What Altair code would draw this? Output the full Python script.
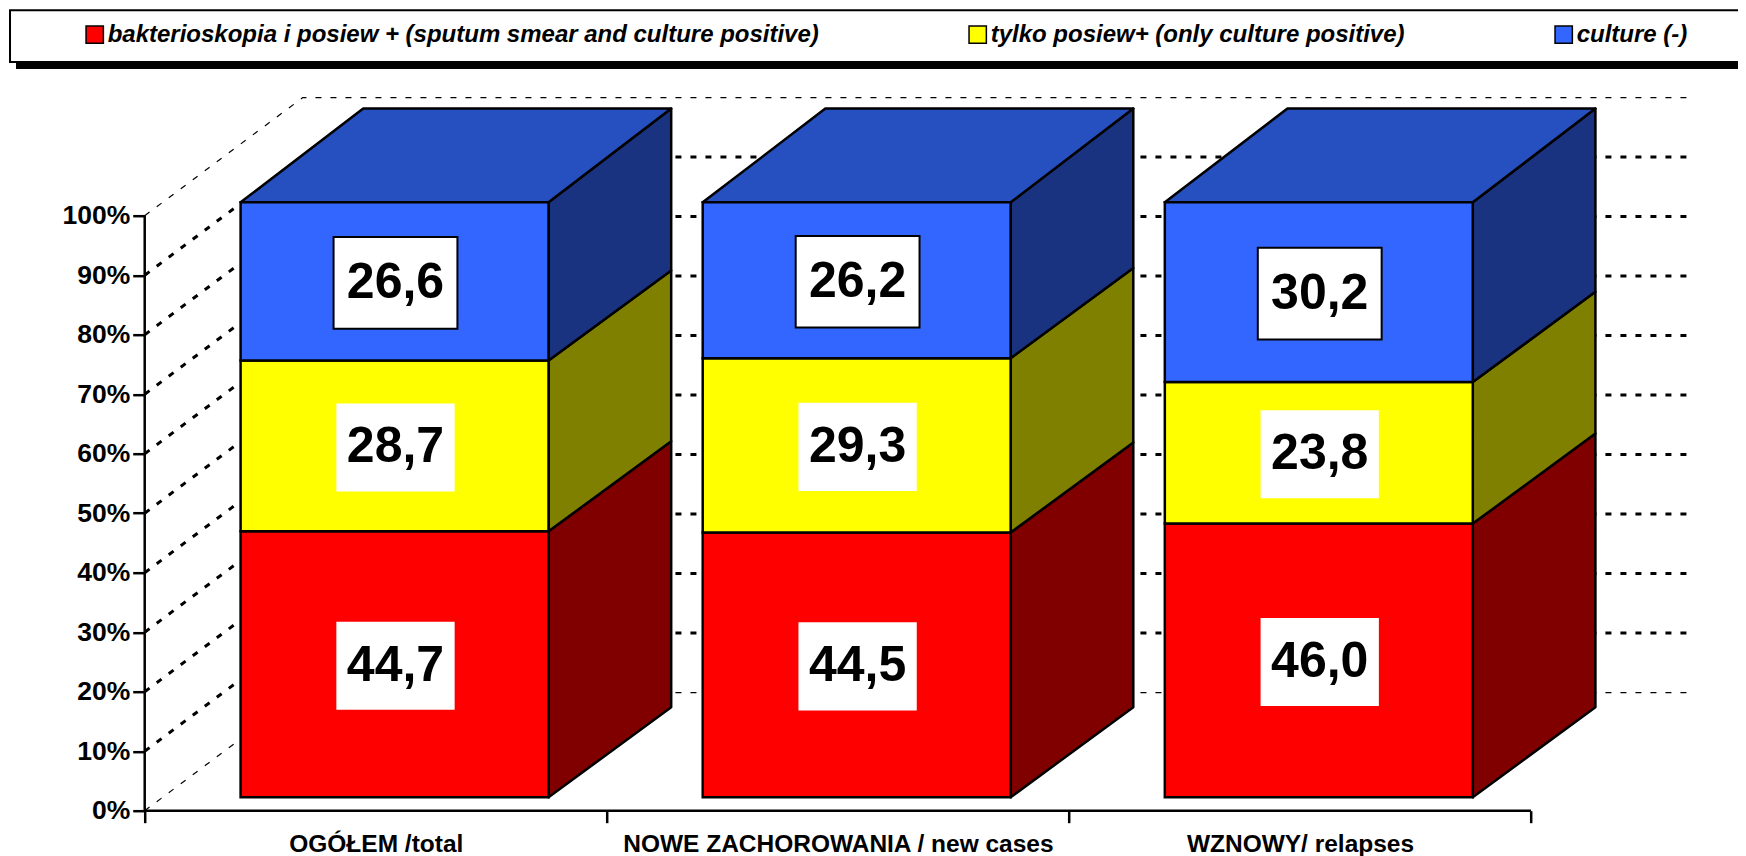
import altair as alt
import pandas as pd

CATEGORIES = ["OGÓŁEM /total", "NOWE ZACHOROWANIA / new cases", "WZNOWY/ relapses"]
SERIES = [
    "bakterioskopia i posiew + (sputum smear and culture positive)",
    "tylko posiew+ (only culture positive)",
    "culture (-)",
]
RED_VALUES = [44.7, 44.5, 46.0]
YELLOW_VALUES = [28.7, 29.3, 23.8]
BLUE_VALUES = [26.6, 26.2, 30.2]
LABELS = [["44,7", "44,5", "46,0"], ["28,7", "29,3", "23,8"], ["26,6", "26,2", "30,2"]]
FRONT_COLORS = ["#FF0000", "#FFFF00", "#3366FF"]
SIDE_COLORS = ["#800000", "#808000", "#1A3380"]
TOP_COLOR = "#264FBF"
PERCENT_TICKS = list(range(0, 101, 10))

# scale set-up: one x unit is one category slot, y is percent
PLOT_W, PLOT_H = 1544.4, 714
X_DOMAIN = [0, 3.342]
Y_DOMAIN = [0, 120]
BAR_LEFT = 0.2075
BAR_W = 0.6664
BAR_DX = 0.2654
FLOOR = 2.25
WALL_DX, WALL_DY = 0.342, 19.85
FONT = "Liberation Sans"

x_scale = alt.Scale(domain=X_DOMAIN, nice=False, zero=False)
y_scale = alt.Scale(domain=Y_DOMAIN, nice=False, zero=False)

x_axis = alt.Axis(
    values=[0, 0.5, 1, 1.5, 2, 2.5, 3],
    labelExpr="datum.value === 0.5 ? '%s' : datum.value === 1.5 ? '%s' : datum.value === 2.5 ? '%s' : ''"
    % tuple(CATEGORIES),
    domain=False, grid=False, tickColor="black", tickWidth=2.5, tickSize=12,
    tickOpacity={"condition": {"test": "datum.value % 1 === 0", "value": 1}, "value": 0},
    labelFont=FONT, labelFontWeight="bold", labelFontSize=24.5, labelColor="black", labelLimit=800,
    labelPadding=10, labelOverlap=False, labelFlush=False, labelBound=False, labelAngle=0,
)
y_axis = alt.Axis(
    values=PERCENT_TICKS, labelExpr="datum.value + '%'",
    domain=False, grid=False, tickColor="black", tickWidth=2.5, tickSize=12,
    labelFont=FONT, labelFontWeight="bold", labelFontSize=26.5, labelColor="black",
    labelPadding=3,
)


def X(field="x"):
    return alt.X(f"{field}:Q", scale=x_scale, axis=x_axis, title=None, stack=None)


def Y(field="y"):
    return alt.Y(f"{field}:Q", scale=y_scale, axis=y_axis, title=None, stack=None)


def back(y, is_top=False):
    return y + (15.75 if is_top else 15.15)


front_rows, side_rows, top_rows, box_rows = [], [], [], []
all_values = [RED_VALUES, YELLOW_VALUES, BLUE_VALUES]
for c in range(len(CATEGORIES)):
    left = c + BAR_LEFT
    right = left + BAR_W
    cum = 0.0
    for s, vals in enumerate(all_values):
        v = vals[c]
        y0, y1 = FLOOR + cum, FLOOR + cum + v
        front_rows.append(dict(x=left, x2=right, y=y0, y2=y1, series=SERIES[s]))
        key = f"{c}-{s}"
        side_rows.append(dict(x=right, y=y1, y2=y0, fill=SIDE_COLORS[s], key=key))
        side_rows.append(dict(x=right + BAR_DX, y=back(y1, s == 2), y2=back(y0),
                              fill=SIDE_COLORS[s], key=key))
        box_rows.append(dict(x=left + BAR_W / 2 + 0.002, y=(y0 + y1) / 2 - 0.25,
                             text=LABELS[s][c], s=s))
        cum += v
    top_rows.append(dict(y=FLOOR + 100, x=left, x2=right, key=str(c), fill=TOP_COLOR))
    top_rows.append(dict(y=back(FLOOR + 100, True), x=left + BAR_DX, x2=right + BAR_DX,
                         key=str(c), fill=TOP_COLOR))

front = pd.DataFrame(front_rows)
side = pd.DataFrame(side_rows)
top = pd.DataFrame(top_rows)
boxes = pd.DataFrame(box_rows)
boxes["x0"] = boxes.x - boxes.s.map(lambda s: 0.134 if s == 2 else 0.128)
boxes["x1"] = boxes.x + boxes.s.map(lambda s: 0.134 if s == 2 else 0.128)
boxes["y0"] = boxes.y - boxes.s.map(lambda s: 7.7 if s == 2 else 7.4)
boxes["y1"] = boxes.y + boxes.s.map(lambda s: 7.7 if s == 2 else 7.4)

grid_rows = []
for p in PERCENT_TICKS:
    for gx, gy in [(0, p), (WALL_DX, p + WALL_DY), (X_DOMAIN[1], p + WALL_DY)]:
        grid_rows.append(dict(x=gx, y=gy, p=p))
grid = pd.DataFrame(grid_rows)
grid_heavy = grid[~grid.p.isin([0, 100])]
grid_light = grid[grid.p.isin([0, 100])]

legend_box = alt.Chart(pd.DataFrame({"k": [0]}))
shadow = legend_box.mark_rect(fill="black").encode(
    x=alt.value(-128.7), x2=alt.value(1620), y=alt.value(-78), y2=alt.value(-27.7))
frame = legend_box.mark_rect(fill="white", stroke="black", strokeWidth=2).encode(
    x=alt.value(-134.7), x2=alt.value(1620), y=alt.value(-86.5), y2=alt.value(-34.7))

grid_h = alt.Chart(grid_heavy).mark_line(color="black", strokeWidth=3, strokeDash=[6, 9]).encode(
    x=X(), y=Y(), detail="p:N")
grid_l = alt.Chart(grid_light).mark_line(color="black", strokeWidth=1.2, strokeDash=[6, 9]).encode(
    x=X(), y=Y(), detail="p:N")

axis_y = alt.Chart(pd.DataFrame({"y": [0], "y2": [100]})).mark_rule(color="black", strokeWidth=2.5).encode(
    x=alt.value(0), y=Y(), y2="y2:Q")
axis_x = alt.Chart(pd.DataFrame({"x": [0], "x2": [3], "y": [0]})).mark_rule(color="black", strokeWidth=2.5).encode(
    x=X(), x2="x2:Q", y=Y())

side_l = alt.Chart(side).mark_area(stroke="black", strokeWidth=2.5, strokeJoin="round").encode(
    x=X(), y=Y(), y2="y2:Q",
    detail="key:N", fill=alt.Fill("fill:N", scale=None))
top_l = alt.Chart(top).mark_area(orient="horizontal", stroke="black", strokeWidth=2.5, strokeJoin="round").encode(
    y=Y(), x=X(), x2="x2:Q",
    detail="key:N", fill=alt.Fill("fill:N", scale=None))
front_l = alt.Chart(front).mark_rect(stroke="black", strokeWidth=2.5).encode(
    x=X(), x2="x2:Q", y=Y(), y2="y2:Q",
    color=alt.Color("series:N", scale=alt.Scale(domain=SERIES, range=FRONT_COLORS), title=None,
                    legend=alt.Legend(
                        orient="none", direction="horizontal", columns=3, legendX=-62, legendY=-74,
                        symbolType="square", symbolSize=300, symbolStrokeColor="black", symbolStrokeWidth=1.5,
                        symbolOpacity=1, labelFont=FONT, labelFontStyle="italic", labelFontWeight="bold",
                        labelFontSize=24, labelColor="black", labelLimit=1000, columnPadding=146,
                        padding=0, zindex=1, labelOffset=1,
                    )),
)
box_plain = alt.Chart(boxes[boxes.s != 2]).mark_rect(fill="white").encode(
    x=X("x0"), x2="x1:Q", y=Y("y0"), y2="y1:Q")
box_framed = alt.Chart(boxes[boxes.s == 2]).mark_rect(fill="white", stroke="black", strokeWidth=2).encode(
    x=X("x0"), x2="x1:Q", y=Y("y0"), y2="y1:Q")
text_l = alt.Chart(boxes).mark_text(font=FONT, fontWeight="bold", fontSize=50, color="black", baseline="middle").encode(
    x=X(), y=Y(), text="text:N")

chart = alt.layer(
    shadow, frame, grid_h, grid_l, axis_y, axis_x, side_l, top_l, front_l, box_plain, box_framed, text_l
).properties(
    width=PLOT_W, height=PLOT_H,
    autosize=alt.AutoSizeParams(type="none"),
    padding={"left": 136.7, "top": 88.7, "right": 48.9, "bottom": 46},
).configure_view(stroke=None)

chart.save("out.html", embed_options={"renderer": "svg", "actions": False})
